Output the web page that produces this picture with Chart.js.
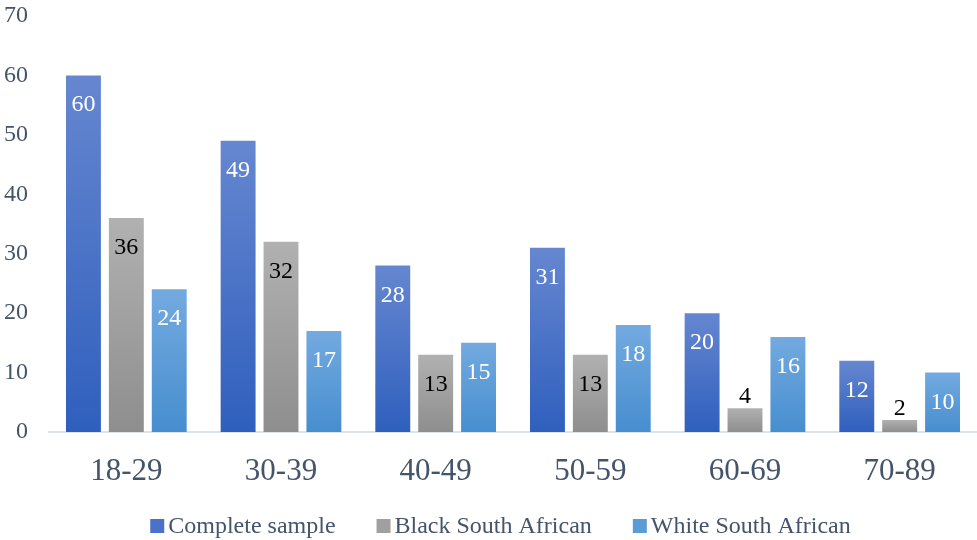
<!DOCTYPE html>
<html>
<head>
<meta charset="utf-8">
<script src="https://cdn.jsdelivr.net/npm/chart.js@4.4.1/dist/chart.umd.min.js"></script>
<style>
  html, body { margin: 0; padding: 0; background: #fff; }
  #wrap { width: 977px; height: 540px; }
</style>
</head>
<body>
<div id="wrap"><canvas id="myChart"></canvas></div>
<script>
var ageGroups = ['18-29', '30-39', '40-49', '50-59', '60-69', '70-89'];
var completeSample = [60, 49, 28, 31, 20, 12];
var blackSA = [36, 32, 13, 13, 4, 2];
var whiteSA = [24, 17, 15, 18, 16, 10];
var yTicks = [0, 10, 20, 30, 40, 50, 60, 70];

var serif = '"Liberation Serif", "Times New Roman", serif';
var slate = '#44546a';
var solidColors = ['#4a72c8', '#a0a0a0', '#5b9bd8'];

// top/bottom colours of each bar gradient
function barGradient(top, bottom, solid) {
  return function(context) {
    var chart = context.chart;
    if (!chart.chartArea || context.type !== 'data') return solid;
    var y = chart.scales.y;
    var yTop = y.getPixelForValue(context.raw);
    var yBase = y.getPixelForValue(0);
    if (!isFinite(yTop) || yTop === yBase) return solid;
    var g = chart.ctx.createLinearGradient(0, yTop, 0, yBase);
    g.addColorStop(0, top);
    g.addColorStop(1, bottom);
    return g;
  };
}

// value labels, inside the top of the bar or above it when too short
var valueLabels = {
  id: 'valueLabels',
  afterDatasetsDraw: function(chart) {
    var ctx = chart.ctx;
    ctx.save();
    ctx.font = '24px ' + serif;
    ctx.textAlign = 'center';
    ctx.textBaseline = 'alphabetic';
    chart.data.datasets.forEach(function(ds, i) {
      var meta = chart.getDatasetMeta(i);
      meta.data.forEach(function(bar, j) {
        var h = bar.base - bar.y;
        var yy;
        if (h < 40) {
          ctx.fillStyle = '#000';
          yy = bar.y - 5;
        } else {
          ctx.fillStyle = i === 1 ? '#000' : '#fff';
          yy = bar.y + 36;
        }
        ctx.fillText(ds.data[j], bar.x, yy);
      });
    });
    ctx.restore();
  }
};

// legend drawn by hand so the spacing matches the original
var bottomLegend = {
  id: 'bottomLegend',
  afterDraw: function(chart) {
    var ctx = chart.ctx;
    ctx.save();
    ctx.font = '24px ' + serif;
    ctx.textBaseline = 'alphabetic';
    ctx.textAlign = 'left';
    var box = 14, gapText = 4, gapItem = 41;
    var items = chart.data.datasets.map(function(ds) {
      return { text: ds.label, w: ctx.measureText(ds.label).width };
    });
    var total = 0;
    items.forEach(function(it, i) {
      total += box + gapText + it.w + (i < items.length - 1 ? gapItem : 0);
    });
    var x = (chart.width - total) / 2 + 12;
    var base = 533;
    items.forEach(function(it, i) {
      ctx.fillStyle = solidColors[i];
      ctx.fillRect(x, base - 14, box, box);
      ctx.fillStyle = slate;
      ctx.fillText(it.text, x + box + gapText, base);
      x += box + gapText + it.w + gapItem;
    });
    ctx.restore();
  }
};

new Chart('myChart', {
  type: 'bar',
  data: {
    labels: ageGroups,
    datasets: [
      { label: 'Complete sample', data: completeSample,
        backgroundColor: barGradient('#6687d0', '#2f5fbd', solidColors[0]) },
      { label: 'Black South African', data: blackSA,
        backgroundColor: barGradient('#b1b1b1', '#8e8e8e', solidColors[1]) },
      { label: 'White South African', data: whiteSA,
        backgroundColor: barGradient('#73aae0', '#478ecf', solidColors[2]) }
    ]
  },
  options: {
    responsive: true,
    maintainAspectRatio: false,
    animation: false,
    datasets: { bar: { categoryPercentage: 0.832, barPercentage: 0.814 } },
    layout: { padding: { top: 16, right: 0, left: 0, bottom: 46 } },
    plugins: {
      tooltip: { enabled: false },
      legend: { display: false }
    },
    scales: {
      x: {
        grid: { display: false },
        border: { display: true, color: '#dde2e9', width: 2 },
        ticks: { font: { family: serif, size: 31 }, color: slate, padding: 13 },
        afterFit: function(scale) { scale.height = 62; }
      },
      y: {
        min: 0, max: 70,
        afterBuildTicks: function(scale) {
          scale.ticks = yTicks.map(function(v) { return { value: v }; });
        },
        grid: { display: false },
        border: { display: false },
        ticks: { font: { family: serif, size: 24 }, color: slate, padding: 13 },
        afterFit: function(scale) {
          scale.width = 49;
          scale.paddingTop = 0;
          scale.paddingBottom = 0;
        }
      }
    }
  },
  plugins: [valueLabels, bottomLegend]
});
</script>
</body>
</html>
